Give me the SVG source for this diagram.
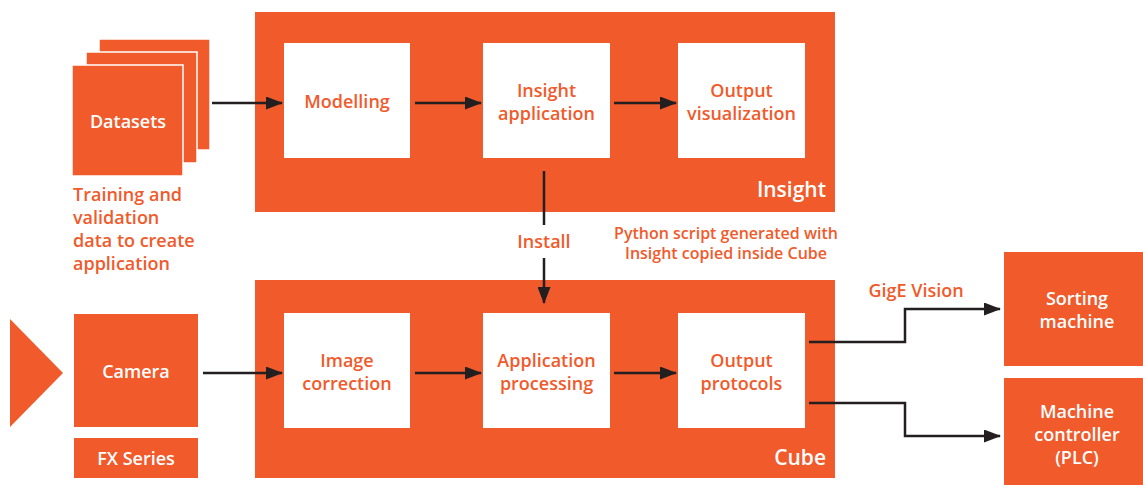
<svg xmlns="http://www.w3.org/2000/svg" width="1143" height="485" viewBox="0 0 1143 485">
<style>
.o{fill:#F15A2B}
.w{fill:#FFFFFF}
.t{font-family:"Open Sans","Liberation Sans",sans-serif;font-weight:600;font-size:18px;text-anchor:middle}
.tw{fill:#FFFFFF}
.to{fill:#F15A2B}
.c{fill:none;stroke:#231F20;stroke-width:2.5}
</style>
<defs>
<marker id="ah" markerWidth="17" markerHeight="13" refX="16" refY="6.5" orient="auto" markerUnits="userSpaceOnUse">
<path d="M0,0 L17,6.5 L0,13 Z" fill="#231F20"/>
</marker>
</defs>
<rect width="1143" height="485" fill="#FFFFFF"/>

<g id="insight">
<rect class="o" x="255" y="12" width="580" height="200"/>
<text class="t tw" x="826" y="197" style="text-anchor:end;font-size:21px">Insight</text>
</g>
<g id="cube">
<rect class="o" x="255" y="280" width="580" height="198"/>
<text class="t tw" x="826" y="465" style="text-anchor:end;font-size:21px">Cube</text>
</g>

<g id="datasets">
<rect class="o" x="99" y="39" width="111" height="111" stroke="#FFFFFF" stroke-width="1.5"/>
<rect class="o" x="86" y="52" width="111" height="111" stroke="#FFFFFF" stroke-width="1.5"/>
<rect class="o" x="72" y="65" width="111" height="111" stroke="#FFFFFF" stroke-width="1.5"/>
<text class="t tw" x="128" y="128">Datasets</text>
</g>
<g id="datasets-note">
<text class="t to" style="text-anchor:start" x="73"><tspan x="73" y="201">Training and</tspan><tspan x="73" y="224">validation</tspan><tspan x="73" y="247">data to create</tspan><tspan x="73" y="270">application</tspan></text>
</g>

<g id="modelling">
<rect class="w" x="284" y="43" width="126" height="115"/>
<text class="t to" x="347" y="108">Modelling</text>
</g>
<g id="insight-application">
<rect class="w" x="483" y="43" width="127" height="115"/>
<text class="t to"><tspan x="546.5" y="97">Insight</tspan><tspan x="546.5" y="120">application</tspan></text>
</g>
<g id="output-visualization">
<rect class="w" x="678" y="43" width="127" height="115"/>
<text class="t to"><tspan x="741.5" y="97">Output</tspan><tspan x="741.5" y="120">visualization</tspan></text>
</g>

<g id="image-correction">
<rect class="w" x="284" y="313" width="126" height="115"/>
<text class="t to"><tspan x="347" y="367">Image</tspan><tspan x="347" y="390">correction</tspan></text>
</g>
<g id="application-processing">
<rect class="w" x="483" y="313" width="127" height="115"/>
<text class="t to"><tspan x="546.5" y="367">Application</tspan><tspan x="546.5" y="390">processing</tspan></text>
</g>
<g id="output-protocols">
<rect class="w" x="678" y="313" width="127" height="115"/>
<text class="t to"><tspan x="741.5" y="367">Output</tspan><tspan x="741.5" y="390">protocols</tspan></text>
</g>

<g id="camera">
<polygon class="o" points="10,319 63,373 10,427"/>
<rect class="o" x="74" y="314" width="124" height="113"/>
<text class="t tw" x="136" y="378">Camera</text>
</g>
<g id="fx-series">
<rect class="o" x="74" y="438" width="124" height="40"/>
<text class="t tw" x="136" y="465">FX Series</text>
</g>

<g id="sorting-machine">
<rect class="o" x="1004" y="252" width="139" height="114"/>
<text class="t tw"><tspan x="1077" y="305">Sorting</tspan><tspan x="1077" y="328">machine</tspan></text>
</g>
<g id="machine-controller">
<rect class="o" x="1004" y="378" width="139" height="107"/>
<text class="t tw"><tspan x="1077" y="418">Machine</tspan><tspan x="1077" y="441">controller</tspan><tspan x="1077" y="464">(PLC)</tspan></text>
</g>

<g id="labels">
<text class="t to" x="544" y="248">Install</text>
<text class="t to" style="font-size:16px"><tspan x="726" y="239">Python script generated with</tspan><tspan x="726" y="259">Insight copied inside Cube</tspan></text>
<text class="t to" x="916" y="297">GigE Vision</text>
</g>

<g id="connectors">
<line class="c" x1="212" y1="103" x2="282" y2="103" marker-end="url(#ah)"/>
<line class="c" x1="415" y1="103" x2="481" y2="103" marker-end="url(#ah)"/>
<line class="c" x1="614" y1="103" x2="676" y2="103" marker-end="url(#ah)"/>
<line class="c" x1="203" y1="373" x2="282" y2="373" marker-end="url(#ah)"/>
<line class="c" x1="415" y1="373" x2="481" y2="373" marker-end="url(#ah)"/>
<line class="c" x1="614" y1="373" x2="676" y2="373" marker-end="url(#ah)"/>
<line class="c" x1="544" y1="171" x2="544" y2="225"/>
<line class="c" x1="544" y1="258" x2="544" y2="303" marker-end="url(#ah)"/>
<polyline class="c" points="809,342 905,342 905,309 1000,309" marker-end="url(#ah)"/>
<polyline class="c" points="809,403 905,403 905,436 1000,436" marker-end="url(#ah)"/>
</g>
</svg>
